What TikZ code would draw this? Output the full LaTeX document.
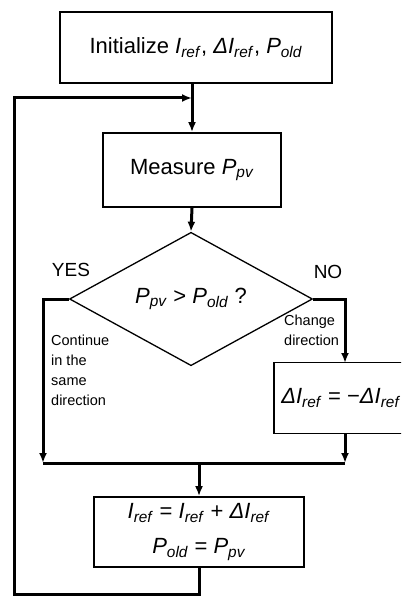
\documentclass[tikz,border=0pt]{standalone}
\usepackage{fontspec}
\setmainfont{Liberation Sans}
\usetikzlibrary{shapes.geometric,arrows.meta}
\newcommand{\vq}[2]{\textit{#1}\textsubscript{\textit{#2}}}
\begin{document}
\begin{tikzpicture}[x=1pt, y=-1pt,
    box/.style={draw, line width=1.8pt, inner sep=0pt, font=\fontsize{22}{26}\selectfont},
    decision/.style={draw, diamond, line width=1.3pt, inner sep=0pt, font=\fontsize{22}{26}\selectfont},
    conn/.style={line width=3pt, -{Latex[length=10pt,width=8pt]}},
    plain/.style={line width=3pt},
    tag/.style={font=\fontsize{19}{23}\selectfont},
    note/.style={font=\fontsize{14.5}{20}\selectfont, align=left, inner sep=0pt}]
    \path[use as bounding box, clip] (0,0) rectangle (401,596);

    % Initialization
    \node[box, minimum width=272pt, minimum height=71pt] (init) at (196,47.5)
        {Initialize \vq{I}{ref}, \textit{Δ}\vq{I}{ref}, \vq{P}{old}};

    % Measurement
    \node[box, minimum width=178pt, minimum height=74pt] (meas) at (192,170)
        {Measure \vq{P}{pv}};

    % Decision
    \node[decision, minimum width=243pt, minimum height=125pt] (dec) at (191,299)
        {\vq{P}{pv} > \vq{P}{old} ?};
    \node[tag] (yes) at (71,270) {YES};
    \node[tag] (no) at (328,272) {NO};

    % Branch notes
    \node[note, anchor=north west] (cont) at (51,335) {Continue\\in the\\same\\direction};
    \node[note, anchor=north west] (chg) at (284,315) {Change\\direction};

    % Change of step sign
    \node[box, minimum width=134pt, minimum height=71pt] (dir) at (341,398)
        {\textit{Δ}\vq{I}{ref} = −\textit{Δ}\vq{I}{ref}};

    % Update
    \node[box, minimum width=210pt, minimum height=70pt, align=center,
          font=\fontsize{22}{35}\selectfont] (upd) at (199,532)
        {\vq{I}{ref} = \vq{I}{ref} + \textit{Δ}\vq{I}{ref}\\\vq{P}{old} = \vq{P}{pv}};

    % Junction points
    \coordinate (joinL) at (43,463);
    \coordinate (joinR) at (345,463);
    \coordinate (join) at (199,463);
    \coordinate (noDown) at (345,363);
    \coordinate (loopBL) at (14,594);
    \coordinate (loopTL) at (14,98);
    \coordinate (loopIn) at (192,98);

    % Main flow
    \draw[conn] (meas.north |- init.south) -- (meas.north);
    \draw[conn] (meas.south) -- (dec.north);
    \draw[conn] (dec.west) -| (joinL);
    \draw[conn] (dec.east) -| (noDown);
    \draw[conn] (noDown |- dir.south) -- (joinR);
    \draw[plain] (joinL) -- (joinR);
    \draw[conn] (join) -- (upd.north);

    % Loop back
    \draw[conn] (upd.south) |- (loopBL) -- (loopTL) -- (loopIn);
\end{tikzpicture}
\end{document}
